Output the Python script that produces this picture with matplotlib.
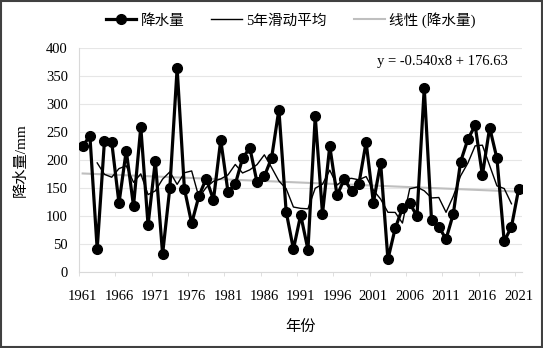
import matplotlib.pyplot as plt
import numpy as np
import pandas as pd
from matplotlib.patches import Rectangle

plt.rcParams['font.family'] = ['Liberation Serif', 'Noto Sans CJK SC']

# precipitation per year (mm)
years = list(range(1961, 2022))
rain = [225, 243, 41, 234, 232, 123, 217, 118, 259, 84,
        199, 32, 151, 364, 149, 87, 136, 167, 129, 236,
        143, 157, 203, 222, 160, 171, 204, 290, 108, 41,
        102, 40, 278, 104, 225, 137, 166, 145, 157, 232,
        124, 195, 23, 78, 114, 123, 100, 329, 93, 81,
        59, 104, 197, 237, 262, 173, 258, 203, 55, 81,
        149]

# trend line coefficients as printed on the chart
slope = -0.540
intercept = 176.63

s = pd.Series(rain, index=years, dtype=float)
ma = s.rolling(5, center=True).mean()
ma.iloc[-2] = s.iloc[-4:].mean()   # last value of the sheet averages only 4 years
xi = np.arange(1, len(years) + 1)
trend = slope * xi + intercept

fig = plt.figure(figsize=(5.43, 3.48), dpi=100)
ax = fig.add_axes([0.1455, 0.218, 0.8165, 0.644])

ax.plot(years, rain, color='black', lw=2.3, marker='o', ms=7, label='降水量', zorder=3)
ax.plot(years, ma.values, color='black', lw=1.0, label='5年滑动平均', zorder=4)
ax.plot(years, trend, color='#bfbfbf', lw=1.5, label='线性 (降水量)', zorder=2)

ax.set_xlim(1960.5, 2021.5)
ax.set_ylim(0, 400)
ax.set_yticks(range(0, 401, 50))
ax.set_xticks(range(1961, 2022, 5))
ax.set_xticks(np.arange(1960.5, 2022, 5), minor=True)
ax.tick_params(axis='x', which='major', length=0, pad=13, labelsize=10.5)
ax.tick_params(axis='x', which='minor', length=3, color='#d9d9d9', direction='out')
ax.tick_params(axis='y', length=0, pad=8, labelsize=10.5)
ax.grid(axis='y', color='#e6e6e6', lw=0.8)
ax.set_axisbelow(True)
for sp in ['top', 'right']:
    ax.spines[sp].set_visible(False)
ax.spines['left'].set_color('#d9d9d9')
ax.spines['bottom'].set_color('#d9d9d9')

ax.set_xlabel('年份', fontsize=11, labelpad=12)
ax.set_ylabel('降水量/mm', fontsize=11, labelpad=13)

ax.text(0.967, 0.94, 'y = -0.540x8 + 176.63', transform=ax.transAxes,
        ha='right', va='center', fontsize=10.5)

fig.legend(loc='center', bbox_to_anchor=(0.535, 0.943), ncol=3, frameon=False,
           fontsize=10.5, handlelength=2.1, columnspacing=1.85, handletextpad=0.3)

fig.patches.append(Rectangle((0.002, 0.003), 0.996, 0.994, transform=fig.transFigure,
                             fill=False, edgecolor='#404040', lw=1.5))

fig.savefig('out.png', dpi=100)
